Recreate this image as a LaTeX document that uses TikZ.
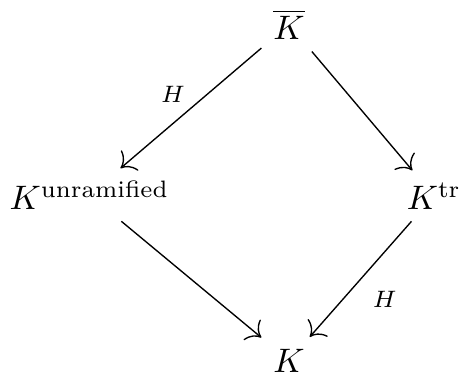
\documentclass[tikz,border=0pt]{standalone}
\usepackage{amsmath, amssymb}
\usepackage{tikz}
\usetikzlibrary{arrows.meta, positioning}

\begin{document}
\begin{tikzpicture}[
    fld/.style={anchor=base},
    arr/.style={-{To[scale=1.5]}},
    lbl/.style={font=\scriptsize}
]
\useasboundingbox (-2.992,-0.02) rectangle (1.770,3.852);

\node[fld] (kbar) at (0,3.443) {$\overline{K}$};
\node[fld] (kun) at (-2.066,1.685) {$K^{\text{unramified}}$};
\node[fld] (ktr) at (1.50,1.685) {$K^{\text{tr}}$};
\node[fld] (k) at (0,0) {$K$};

\draw[arr] (kbar) -- node[lbl, above left=-2.5pt]{$H$} (kun);
\draw[arr] (kbar) -- (ktr);
\draw[arr] (kun) -- (k);
\draw[arr] (ktr) -- node[lbl, below right]{$H$} (k);
\end{tikzpicture}
\end{document}
